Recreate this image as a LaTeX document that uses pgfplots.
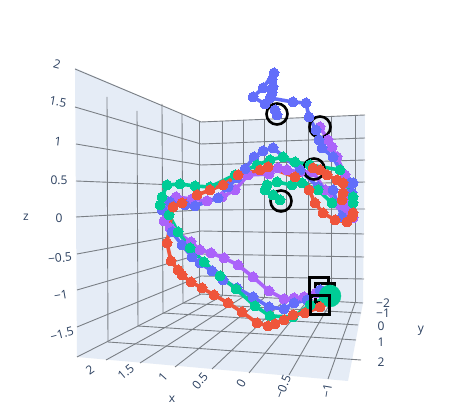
\documentclass[border=0pt]{standalone}
\usepackage{fontspec}
\setmainfont{Open Sans}
\usepackage{pgfplots}
\pgfplotsset{compat=1.18}
\definecolor{pane}{HTML}{E5ECF6}
\definecolor{ink}{HTML}{2A3F5F}
\definecolor{gridc}{HTML}{7A7F85}
\definecolor{cblue}{HTML}{636EFA}
\definecolor{cred}{HTML}{EF553B}
\definecolor{cgreen}{HTML}{00CC96}
\definecolor{cpurple}{HTML}{AB63FA}
\pgfplotsset{
  gl/.style={gridc,line width=0.9pt},
  traj/.style={color=#1,line width=3.6pt,line join=round,mark=*,mark size=5pt,mark options={solid,fill=#1,draw=#1,line width=0pt}},
  ring/.style={only marks,mark=o,mark size=10.5pt,mark options={black,line width=2.6pt}},
  box/.style={only marks,mark=square,mark size=9.5pt,mark options={black,line width=2.6pt}},
  big/.style={only marks,mark=*,mark size=#1,mark options={solid}},
}
\newcommand{\tl}{\fontsize{12}{14}\selectfont}
\begin{document}
\begin{tikzpicture}
\begin{axis}[width=451pt,height=419pt,scale only axis,hide axis,clip=false,
  xmin=0,xmax=451,ymin=0,ymax=419,y dir=reverse]
% page
\addplot[white,fill=white,line width=0pt] coordinates {(0,0)(451,0)(451,419)(0,419)} --cycle;
% panes
\addplot[draw=none,fill=pane] coordinates {(75,68)(201,122)(201,294)(77,357)} --cycle;
\addplot[draw=none,fill=pane] coordinates {(201,122)(365,115)(363,303)(201,294)} --cycle;
\addplot[draw=none,fill=pane] coordinates {(77,357)(201,294)(363,303)(348,381)} --cycle;
% left wall, z lines
\addplot[gl] coordinates {(75,69)(201,122)};
\addplot[gl] coordinates {(75,107)(201,144)};
\addplot[gl] coordinates {(76,144)(201,165)};
\addplot[gl] coordinates {(76,181)(201,186)};
\addplot[gl] coordinates {(76,217)(201,210)};
\addplot[gl] coordinates {(77,254)(201,231)};
\addplot[gl] coordinates {(77,290)(201,254)};
\addplot[gl] coordinates {(77,327)(201,276)};
% left wall, y lines
\addplot[gl] coordinates {(107,97)(108,342)};
\addplot[gl] coordinates {(137,111)(138,326)};
\addplot[gl] coordinates {(162,104)(163,313)};
\addplot[gl] coordinates {(182,114)(183,303)};
\addplot[gl] coordinates {(199,121)(199,295)};
% back wall, z lines
\addplot[gl] coordinates {(201,122)(365,115)};
\addplot[gl] coordinates {(201,144)(365,138)};
\addplot[gl] coordinates {(201,165)(365,160)};
\addplot[gl] coordinates {(201,186)(365,182)};
\addplot[gl] coordinates {(201,210)(365,209)};
\addplot[gl] coordinates {(201,231)(364,234)};
\addplot[gl] coordinates {(201,254)(364,257)};
\addplot[gl] coordinates {(201,276)(364,279)};
% back wall, x lines
\addplot[gl] coordinates {(222,121)(222,296)};
\addplot[gl] coordinates {(243,120)(243,297)};
\addplot[gl] coordinates {(264,119)(264,298)};
\addplot[gl] coordinates {(286,118)(286,299)};
\addplot[gl] coordinates {(308,117)(308,300)};
\addplot[gl] coordinates {(331,116)(331,302)};
\addplot[gl] coordinates {(355,115)(355,303)};
% floor
\addplot[gl] coordinates {(106,360)(222,296)};
\addplot[gl] coordinates {(140,363)(243,297)};
\addplot[gl] coordinates {(175,367)(264,298)};
\addplot[gl] coordinates {(212,369)(286,299)};
\addplot[gl] coordinates {(249,373)(308,300)};
\addplot[gl] coordinates {(289,375)(331,302)};
\addplot[gl] coordinates {(328,379)(355,303)};
\addplot[gl] coordinates {(77,357)(201,294)};
\addplot[gl] coordinates {(201,294)(363,303)};
\addplot[gl] coordinates {(108,342)(361,360)};
\addplot[gl] coordinates {(138,326)(356,340)};
\addplot[gl] coordinates {(163,313)(358,325)};
\addplot[gl] coordinates {(183,303)(361,313)};
% rings behind the traces
\addplot[ring] coordinates {(277,114)(320,127)(314,169)(281,201)};
\addplot[box] coordinates {(319,287)(325,293)};
% purple
\addplot[traj=cpurple] coordinates {(320,127)(328,140)(332,147)(337,157)(345,175)(348,203)(347,210)(353,218)(340,205)(325,190)(313,172)(300,172)(287,170)(278,168)(269,174)(248,175)(235,190)(222,197)(207,201)(192,199)(176,197)(168,202)(164,221)(170,228)(191,242)(200,250)(211,253)(224,258)(238,265)(253,277)(269,291)(284,299)(294,298)(304,297)(316,293)};
% blue
\addplot[traj=cblue] coordinates {(277,115)(275,110)(265,104)(253,97)(263,88)(274,73)(272,80)(273,87)(272,93)(270,98)(293,102)(306,103)(309,117)(316,130)(319,140)(322,148)(333,157)(340,170)(350,183)(353,183)(352,193)(342,217)(333,190)(318,187)(300,170)(273,148)(263,151)(254,157)(245,169)(237,178)(228,187)(218,198)(195,206)(185,205)(170,202)(162,210)(172,232)(182,245)(192,257)(200,263)(212,271)(223,280)(237,288)(253,297)(269,307)(284,309)(294,303)(307,300)(320,290)};
% green
\addplot[traj=cgreen] coordinates {(280,200)(273,195)(265,190)(267,185)(277,182)(292,185)(302,183)(318,190)(332,203)(353,203)(353,197)(340,170)(310,165)(295,162)(283,157)(270,160)(257,165)(235,175)(210,187)(195,186)(180,184)(167,185)(162,197)(160,205)(169,215)(178,232)(190,248)(204,262)(220,276)(236,289)(255,306)(270,316)(293,317)(310,305)(327,297)};
\addplot[big=11pt,color=cgreen] coordinates {(330,296)};
% red
\addplot[traj=cred] coordinates {(313,168)(320,170)(327,175)(337,180)(343,183)(343,193)(342,200)(352,217)(353,213)(347,222)(335,220)(323,213)(315,203)(309,190)(295,177)(268,167)(260,170)(238,175)(223,185)(210,190)(197,195)(182,203)(173,207)(167,243)(171,261)(178,270)(182,275)(191,282)(202,288)(214,295)(228,303)(242,312)(257,323)(268,326)(275,324)(284,320)(293,315)(305,313)(320,307)};
\addplot[box] coordinates {(320,305)};
% tick labels
\node[ink,rotate=-15] at (axis cs:57,64) {\tl 2};
\node[ink,rotate=-10] at (axis cs:58,102) {\tl 1.5};
\node[ink,rotate=-6] at (axis cs:58,142) {\tl 1};
\node[ink] at (axis cs:59,180) {\tl 0.5};
\node[ink] at (axis cs:59,218) {\tl 0};
\node[ink,rotate=6] at (axis cs:60,258) {\tl −0.5};
\node[ink,rotate=10] at (axis cs:61,295) {\tl −1};
\node[ink,rotate=15] at (axis cs:62,334) {\tl −1.5};
\node[ink] at (axis cs:26,217) {\tl z};
\node[ink,rotate=35] at (axis cs:90,370) {\tl 2};
\node[ink,rotate=40] at (axis cs:126,372) {\tl 1.5};
\node[ink,rotate=48] at (axis cs:163,377) {\tl 1};
\node[ink,rotate=50] at (axis cs:200,381) {\tl 0.5};
\node[ink,rotate=60] at (axis cs:241,383) {\tl 0};
\node[ink,rotate=68] at (axis cs:283,387) {\tl −0.5};
\node[ink,rotate=80] at (axis cs:327,391) {\tl −1};
\node[ink] at (axis cs:172,399) {\tl x};
\node[ink] at (axis cs:383,303) {\tl −2};
\node[ink] at (axis cs:383,313) {\tl −1};
\node[ink] at (axis cs:381,326) {\tl 0};
\node[ink] at (axis cs:381,342) {\tl 1};
\node[ink] at (axis cs:381,362) {\tl 2};
\node[ink] at (axis cs:421,331) {\tl y};
\end{axis}
\end{tikzpicture}
\end{document}
